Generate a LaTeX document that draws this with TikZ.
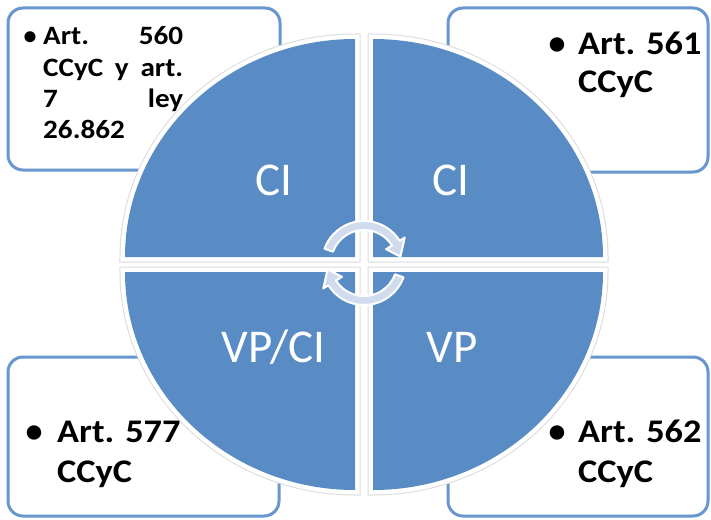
\documentclass[tikz,border=0pt]{standalone}
\usepackage{fontspec}
\setmainfont{Carlito}
\newfontfamily\boxfont[FakeStretch=1.1]{Carlito}
\definecolor{qblue}{RGB}{89,139,196}
\definecolor{boxblue}{RGB}{104,150,206}
\definecolor{arrfill}{RGB}{208,220,238}
\tikzset{
  box/.style={draw=boxblue, line width=3pt, fill=white, rounded corners=15pt},
  qout/.style={draw=gray!28, line width=11pt, line join=miter},
  qin/.style={draw=white, line width=9pt, line join=miter},
  qfill/.style={fill=qblue},
  small/.style={font=\boxfont\fontsize{26.5}{31}\selectfont\bfseries, inner sep=0pt, anchor=base west},
  big/.style={font=\boxfont\fontsize{33}{38}\selectfont\bfseries, inner sep=0pt, anchor=base west},
  bul/.style={inner sep=0pt, anchor=base},
  qlabel/.style={font=\fontsize{47}{50}\selectfont, text=white, inner sep=0pt, anchor=base},
  cyc/.style={fill=arrfill, draw=white, line width=2pt, line join=round}
}
\begin{document}
\begin{tikzpicture}[x=1pt,y=-1pt]
\useasboundingbox (0,0) rectangle (711,519);
% boxes
\draw[box] (8,8) rectangle (280,170);
\draw[box] (448,8) rectangle (708,172);
\draw[box] (8,357) rectangle (279,516);
\draw[box] (448,357) rectangle (708,516);
% quadrants
\foreach \cx/\cy/\sa in {355/257/180, 373/257/270, 373/272/0, 355/272/90}{
  \path[qout] (\cx,\cy) -- ++(\sa:230 and 218) arc[start angle=\sa, delta angle=90, x radius=230, y radius=218] -- cycle;
}
\foreach \cx/\cy/\sa in {355/257/180, 373/257/270, 373/272/0, 355/272/90}{
  \path[qin] (\cx,\cy) -- ++(\sa:230 and 218) arc[start angle=\sa, delta angle=90, x radius=230, y radius=218] -- cycle;
}
\foreach \cx/\cy/\sa in {355/257/180, 373/257/270, 373/272/0, 355/272/90}{
  \path[qfill] (\cx,\cy) -- ++(\sa:230 and 218) arc[start angle=\sa, delta angle=90, x radius=230, y radius=218] -- cycle;
}
% quadrant labels
\node[qlabel] (q1) at (274,195) {CI};
\node[qlabel] (q2) at (451,195) {CI};
\node[qlabel] (q3) at (273.5,362) {VP/CI};
\node[qlabel] (q4) at (452,362) {VP};
% cycle arrows
\begin{scope}[shift={(364,263)}, y=1pt]
  \foreach \r in {0,180}{
    \begin{scope}[rotate=\r]
      \path[cyc] (160:42) arc[start angle=160, end angle=32, radius=42]
        -- (32:48) -- (10:37) -- (32:26) -- (32:33)
        arc[start angle=32, end angle=160, radius=33] -- cycle;
    \end{scope}
  }
\end{scope}
% top-left text
\node[bul, font=\fontsize{26}{31}\selectfont\bfseries] (b1) at (30,45) {\textbullet};
\node[small] (t1a) at (43,45) {\makebox[140pt][s]{Art. 560}};
\node[small] (t1b) at (43,76) {\makebox[140pt][s]{CCyC y art.}};
\node[small] (t1c) at (43,107) {\makebox[140pt][s]{7 ley}};
\node[small] (t1d) at (43,138) {26.862};
% top-right text
\node[bul, font=\fontsize{34}{38}\selectfont\bfseries] (b2) at (557,54) {\textbullet};
\node[big] (t2a) at (578,54) {Art. 561};
\node[big] (t2b) at (578,92) {CCyC};
% bottom-left text
\node[bul, font=\fontsize{34}{38}\selectfont\bfseries] (b3) at (34,442) {\textbullet};
\node[big] (t3a) at (57,442) {Art. 577};
\node[big] (t3b) at (57,482) {CCyC};
% bottom-right text
\node[bul, font=\fontsize{34}{38}\selectfont\bfseries] (b4) at (557,442) {\textbullet};
\node[big] (t4a) at (578,442) {Art. 562};
\node[big] (t4b) at (578,482) {CCyC};
\end{tikzpicture}
\end{document}
